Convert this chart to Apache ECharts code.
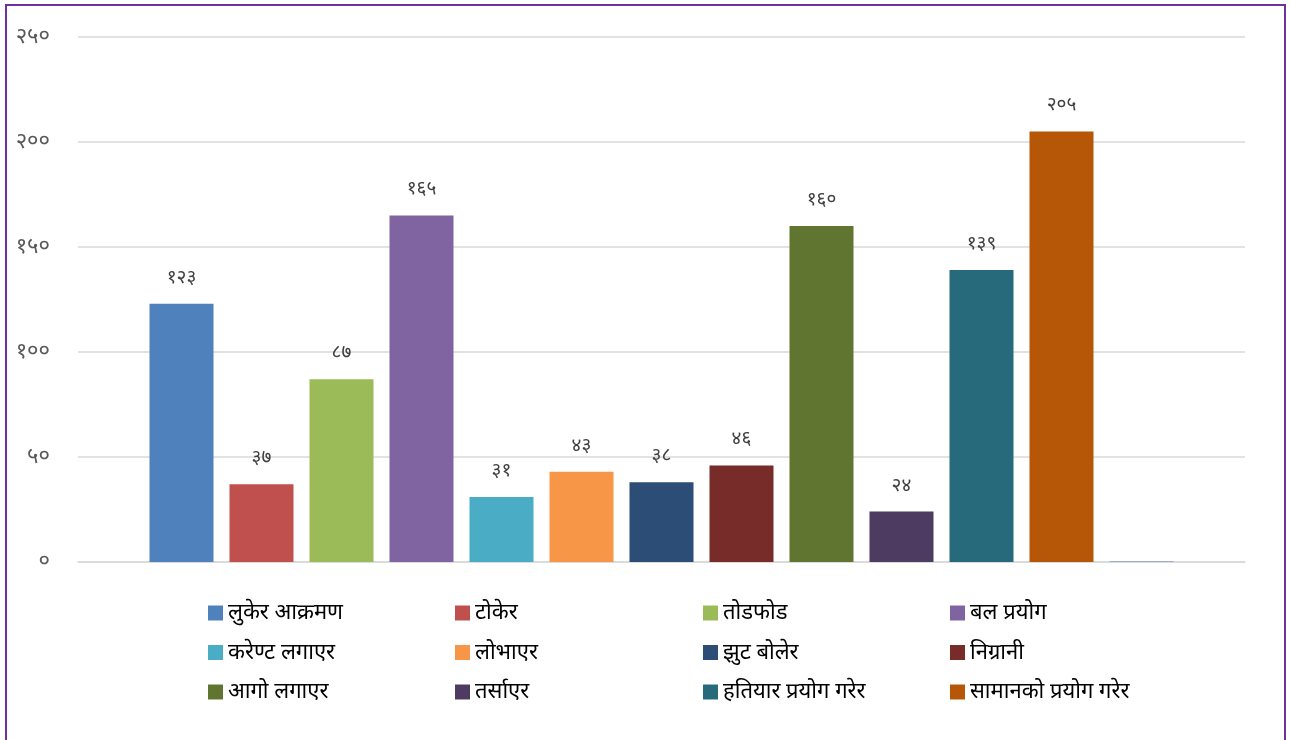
<!DOCTYPE html>
<html>
<head>
<meta charset="utf-8">
<script src="https://cdn.jsdelivr.net/npm/echarts@6/dist/echarts.min.js"></script>
<style>
html,body{margin:0;padding:0;background:#fff;}
#c{width:1290px;height:740px;}
</style>
</head>
<body>
<div id="c"></div>
<script>
const categories = ['लुकेर आक्रमण','टोकेर','तोडफोड','बल प्रयोग','करेण्ट लगाएर','लोभाएर','झुट बोलेर','निग्रानी','आगो लगाएर','तर्साएर','हतियार प्रयोग गरेर','सामानको प्रयोग गरेर',''];
const values = [123, 37, 87, 165, 31, 43, 38, 46, 160, 24, 139, 205, 0];
const colors = ['#4f81bd','#c0504d','#9bbb59','#8064a2','#4bacc6','#f79646','#2c4d75','#772c2a','#5f7530','#4d3b62','#276a7c','#b65708','#9fb0c6'];
const yTicks = [0, 50, 100, 150, 200, 250];

const devDigits = '०१२३४५६७८९';
function toDev(n){ return String(n).replace(/[0-9]/g, d => devDigits[+d]); }

const devFont = '"Noto Sans", "Noto Sans Devanagari", "Lohit Devanagari", "FreeSans", sans-serif';

const series = categories.map((name, i) => ({
  type: 'bar',
  name: name === '' ? 'अन्य' : name,
  data: [values[i]],
  barWidth: 64,
  barGap: '25%',
  barMinHeight: i === 12 ? 1 : 0,
  itemStyle: { color: colors[i] },
  label: {
    show: i !== 12,
    position: 'top',
    distance: 17,
    color: '#404040',
    fontSize: 19,
    fontFamily: devFont,
    formatter: p => toDev(p.value)
  }
}));

const legendCols = [208, 455, 703, 950];
const legends = legendCols.map((x, c) => ({
  orient: 'vertical',
  left: x,
  top: 602,
  padding: 0,
  itemWidth: 15,
  itemHeight: 15,
  itemGap: 17.5,
  icon: 'rect',
  data: [categories[c], categories[c + 4], categories[c + 8]],
  textStyle: { color: '#000', fontSize: 22, fontFamily: devFont, lineHeight: 22, padding: [0, 0, 0, 0] },
  selectedMode: false
}));

const chart = echarts.init(document.getElementById('c'));
chart.setOption({
  animation: false,
  backgroundColor: '#fff',
  graphic: [{
    type: 'rect',
    shape: { x: 6, y: 5, width: 1279, height: 800 },
    style: { fill: 'none', stroke: '#7030a0', lineWidth: 2 },
    silent: true
  }],
  grid: { left: 78, right: 45, top: 37, bottom: 178 },
  legend: legends,
  xAxis: {
    type: 'category',
    data: ['x'],
    axisLine: { show: true, lineStyle: { color: '#d9d9d9', width: 1.5 } },
    axisTick: { show: false },
    axisLabel: { show: false }
  },
  yAxis: {
    type: 'value',
    min: yTicks[0],
    max: yTicks[yTicks.length - 1],
    interval: 50,
    axisLine: { show: false },
    axisTick: { show: false },
    splitLine: { lineStyle: { color: '#d9d9d9', width: 1.5 } },
    axisLabel: {
      margin: 28,
      color: '#595959',
      fontSize: 22,
      fontFamily: devFont,
      formatter: v => toDev(v)
    }
  },
  series: series
});
</script>
</body>
</html>
